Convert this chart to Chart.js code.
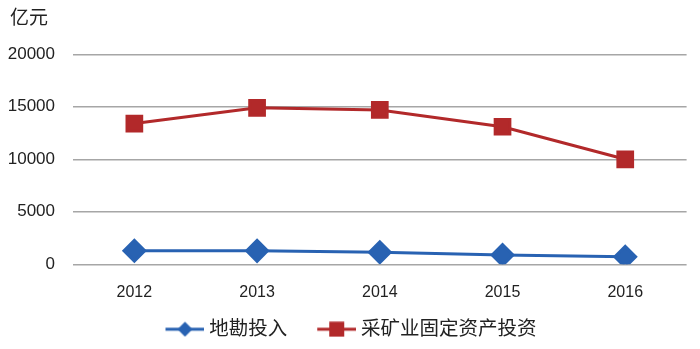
<!DOCTYPE html>
<html lang="zh">
<head>
    <meta charset="UTF-8">
    <title>地勘投入与采矿业固定资产投资</title>
    <script src="https://cdn.jsdelivr.net/npm/chart.js"></script>
    <style>
        html, body { margin: 0; padding: 0; background: #fff; }
        #chartContainer { width: 700px; height: 349px; }
    </style>
</head>
<body>
    <div id="chartContainer">
        <canvas id="myChart" width="700" height="349"></canvas>
    </div>
    <script>
        const years = ['2012', '2013', '2014', '2015', '2016'];
        const geoData = [1290, 1280, 1150, 890, 720];
        const miningData = [13400, 14900, 14700, 13100, 10000];
        const unitLabel = '亿元';

        const blue = '#2862b2';
        const red = '#b2292a';
        const fontFamily = "'Liberation Sans', 'Noto Sans CJK SC', sans-serif";

        // line+marker pictures for the legend (blank space on the left acts as item gap)
        function legendIcon(color, shape) {
            const c = document.createElement('canvas');
            c.width = 68; c.height = 16;
            const g = c.getContext('2d');
            g.strokeStyle = color;
            g.lineWidth = 3;
            g.beginPath(); g.moveTo(29, 8); g.lineTo(68, 8); g.stroke();
            g.fillStyle = color;
            if (shape === 'diamond') {
                g.beginPath();
                g.moveTo(48.5, 0.5); g.lineTo(56, 8); g.lineTo(48.5, 15.5); g.lineTo(41, 8);
                g.closePath(); g.fill();
            } else {
                g.fillRect(41, 0.5, 15, 15);
            }
            return c;
        }

        // nudge the title right and the legend left after layout
        const boxShift = {
            id: 'boxShift',
            afterLayout: function (chart) {
                chart.titleBlock.left += 10;
                chart.titleBlock.right += 10;
                chart.legend.left -= 6;
                chart.legend.right -= 6;
            }
        };

        const ctx = document.getElementById('myChart').getContext('2d');
        const myChart = new Chart(ctx, {
            type: 'line',
            data: {
                labels: years,
                datasets: [{
                    label: '地勘投入',
                    data: geoData,
                    borderColor: blue,
                    backgroundColor: blue,
                    borderWidth: 3,
                    pointStyle: 'rectRot',
                    pointRadius: 10.4,
                    pointHoverRadius: 10.4,
                    tension: 0
                }, {
                    label: '采矿业固定资产投资',
                    data: miningData,
                    borderColor: red,
                    backgroundColor: red,
                    borderWidth: 3,
                    pointStyle: 'rect',
                    pointRadius: 10.4,
                    pointHoverRadius: 10.4,
                    tension: 0
                }]
            },
            options: {
                responsive: false,
                animation: false,
                layout: { padding: { left: 0, right: 10, top: 0, bottom: 0 } },
                scales: {
                    x: {
                        offset: true,
                        grid: { display: false },
                        border: { display: false },
                        ticks: {
                            color: '#222',
                            padding: 11,
                            font: { family: fontFamily, size: 16 }
                        }
                    },
                    y: {
                        min: 0,
                        max: 20000,
                        afterFit: function (scale) { scale.width = 73; },
                        border: { display: false },
                        grid: { color: '#a6a6a6', lineWidth: 1.5, drawTicks: false },
                        ticks: {
                            stepSize: 5000,
                            color: '#222',
                            padding: 18,
                            font: { family: fontFamily, size: 17 },
                            callback: function (v) { return String(v); }
                        }
                    }
                },
                plugins: {
                    title: {
                        display: true,
                        text: unitLabel,
                        align: 'start',
                        color: '#222',
                        font: { family: fontFamily, size: 19, weight: 'normal' },
                        padding: { top: 7, bottom: 24.5 }
                    },
                    legend: {
                        position: 'bottom',
                        labels: {
                            usePointStyle: true,
                            pointStyleWidth: 58,
                            boxHeight: 14,
                            padding: 6,
                            color: '#222',
                            font: { family: fontFamily, size: 19.5 },
                            generateLabels: function (chart) {
                                return chart.data.datasets.map(function (ds, i) {
                                    return {
                                        text: ds.label,
                                        datasetIndex: i,
                                        fontColor: '#222',
                                        pointStyle: legendIcon(ds.borderColor, i === 0 ? 'diamond' : 'square'),
                                        hidden: !chart.isDatasetVisible(i)
                                    };
                                });
                            }
                        }
                    },
                    tooltip: { enabled: false }
                }
            },
            plugins: [boxShift]
        });
    </script>
</body>
</html>
